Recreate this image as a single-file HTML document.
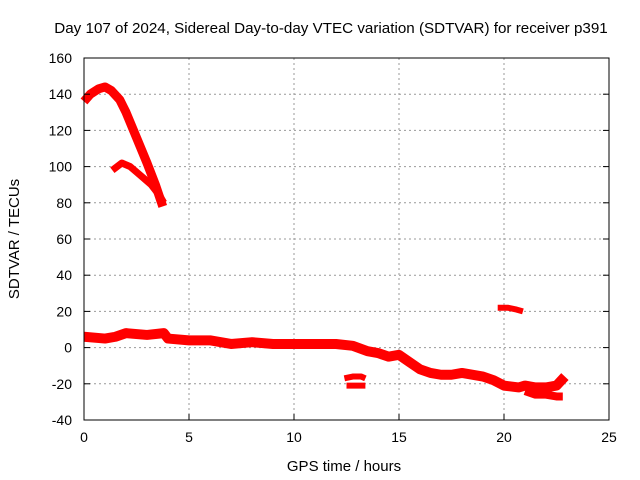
<!DOCTYPE html>
<html><head><meta charset="utf-8"><style>
body{margin:0;background:#fff}
svg{display:block;font-family:"Liberation Sans",sans-serif}
</style></head><body>
<svg id="c" width="640" height="480">
<text x="331" y="33" text-anchor="middle" font-size="15.2">Day 107 of 2024, Sidereal Day-to-day VTEC variation (SDTVAR) for receiver p391</text>
<g id="grid"></g><g id="marks"></g>
<rect x="84" y="58" width="525" height="362" fill="none" stroke="#000" stroke-width="1"/>
<text x="344" y="471" text-anchor="middle" font-size="15">GPS time / hours</text>
<text transform="translate(19,239) rotate(-90)" text-anchor="middle" font-size="15">SDTVAR / TECUs</text>
</svg>
<script>
const xTicks=[0,5,10,15,20,25];
const yTicks=[-40,-20,0,20,40,60,80,100,120,140,160];
const upperArcT=[0,0.3,0.7,1.0,1.3,1.7,2.0,2.5,3.0,3.4,3.75];
const upperArcV=[136,140,143,144,142,137,130,116,102,90,78];
const lowerArcT=[1.35,1.8,2.2,2.7,3.2,3.6,3.8];
const lowerArcV=[98,102,100,95,90,84,80];
const mainT=[0,1,1.5,2,3,3.8,4,5,6,7,8,9,10,11,12,12.8,13.5,14,14.5,15,15.5,16,16.5,17,17.5,18,19,19.5,20,20.7,21,21.5,22,22.5,22.9];
const mainV=[6,5,6,8,7,8,5,4,4,2,3,2,2,2,2,1,-2,-3,-5,-4,-8,-12,-14,-15,-15,-14,-16,-18,-21,-22,-21,-22,-22,-21,-16];
const lowTailT=[21,21.5,22,22.5,22.8];
const lowTailV=[-24,-26,-26,-27,-27];
const loopTopT=[12.4,12.8,13.2,13.4];
const loopTopV=[-17,-16,-16,-17];
const loopBotT=[12.5,12.9,13.4];
const loopBotV=[-21,-21,-21];
const shortT=[19.7,20.2,20.6,20.9];
const shortV=[22,22,21,20];
const X=t=>84+t*21, Y=v=>58+(160-v)*362/200;
const NS="http://www.w3.org/2000/svg";
const grid=document.getElementById('grid'),marks=document.getElementById('marks'),svg=document.getElementById('c');
function mk(tag,a,p){const e=document.createElementNS(NS,tag);for(const k in a)e.setAttribute(k,a[k]);p.appendChild(e);return e;}
xTicks.forEach(t=>{
 if(t>0&&t<25){const g=mk('line',{x1:X(t),x2:X(t),y1:58,y2:420,stroke:'#999','stroke-dasharray':'2,3'},grid);
 
 }
 const l=mk('text',{x:X(t),y:442,'text-anchor':'middle','font-size':14},svg);l.textContent=t;
 
 
 mk('line',{x1:X(t),x2:X(t),y1:420,y2:414,stroke:'#000'},svg);
});
yTicks.forEach(v=>{
 if(v>-40&&v<160){const g=mk('line',{x1:84,x2:609,y1:Y(v),y2:Y(v),stroke:'#999','stroke-dasharray':'2,3'},grid);
 
 }
 const l=mk('text',{x:72,y:Y(v)+5,'text-anchor':'end','font-size':14},svg);l.textContent=v;
 
 
 mk('line',{x1:84,x2:90,y1:Y(v),y2:Y(v),stroke:'#000'},svg);
 mk('line',{x1:609,x2:603,y1:Y(v),y2:Y(v),stroke:'#000'},svg);
});
function series(T,V,w,name){
 const p=mk('polyline',{points:T.map((t,i)=>X(t)+','+Y(V[i])).join(' '),fill:'none',stroke:'#f00','stroke-width':w,'stroke-linejoin':'round','stroke-linecap':'butt'},marks);
 
 
}
series(upperArcT,upperArcV,9,'upper-arc-series');
series(lowerArcT,lowerArcV,7,'lower-arc-series');
series(mainT,mainV,10,'main-series');
series(lowTailT,lowTailV,8,'low-tail-series');
series(loopTopT,loopTopV,6,'loop-top-series');
series(loopBotT,loopBotV,6,'loop-bottom-series');
series(shortT,shortV,6,'short-segment-series');
</script>
</body></html>
